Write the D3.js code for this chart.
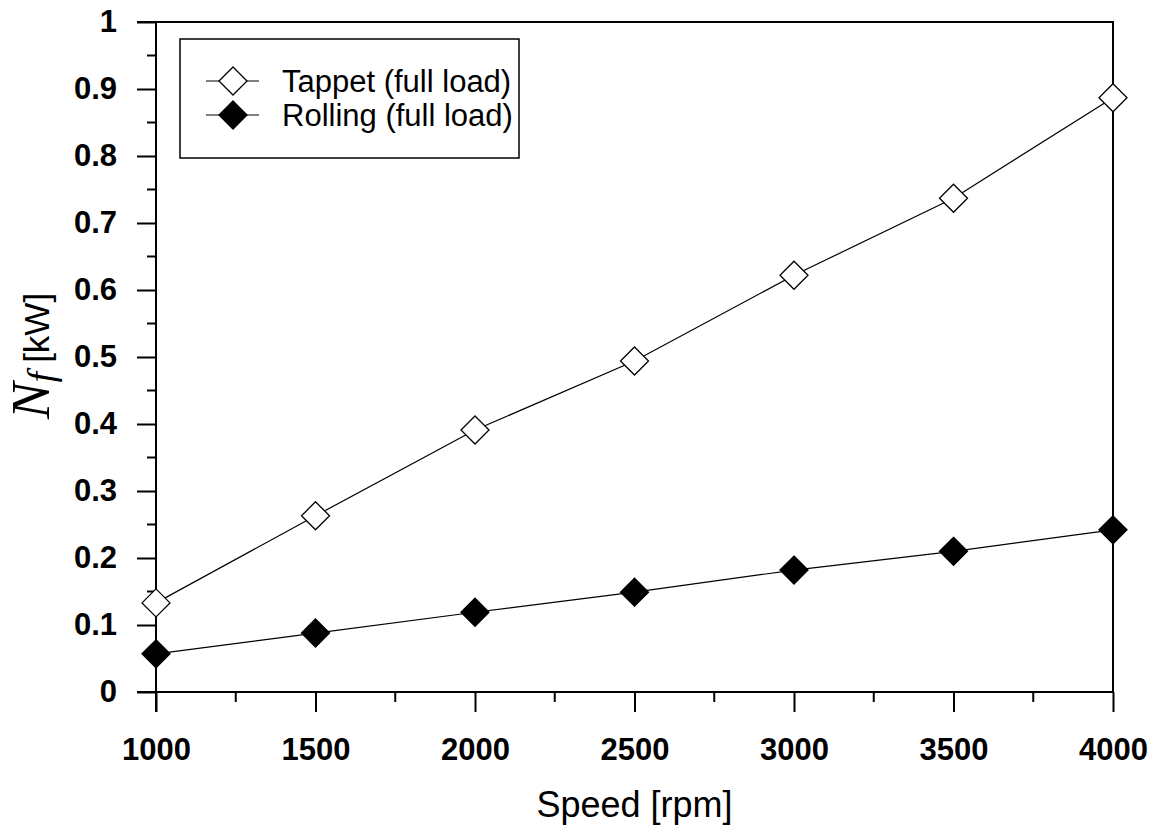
<!DOCTYPE html>
<html>
<head>
<meta charset="utf-8">
<script src="https://cdn.jsdelivr.net/npm/d3@7"></script>
<style>
  body { margin: 0; background: #fff; }
  svg { display: block; }
</style>
</head>
<body>
<svg width="1157" height="834"></svg>
<script>
// data
var speeds = [1000, 1500, 2000, 2500, 3000, 3500, 4000];
var tappet = [0.133, 0.263, 0.391, 0.494, 0.622, 0.737, 0.887];
var rolling = [0.057, 0.088, 0.119, 0.149, 0.182, 0.210, 0.242];
var seriesNames = ["Tappet (full load)", "Rolling (full load)"];
var yTicks = [0, 0.1, 0.2, 0.3, 0.4, 0.5, 0.6, 0.7, 0.8, 0.9, 1];
var xTicks = [1000, 1500, 2000, 2500, 3000, 3500, 4000];

var svg = d3.select("svg");
var plotL = 156, plotR = 1113, plotT = 22, plotB = 692;
var sans = "Arial, 'Liberation Sans', sans-serif";
var serif = "'Liberation Serif', 'Times New Roman', serif";

var x = d3.scaleLinear().domain([1000, 4000]).range([plotL, plotR]);
var y = d3.scaleLinear().domain([0, 1]).range([plotB, plotT]);

// frame: top and right lines (top line runs through the "1" tick)
svg.append("path")
  .attr("d", "M" + (plotL - 19) + "," + plotT + "H" + plotR + "V" + plotB)
  .attr("fill", "none").attr("stroke", "#000").attr("stroke-width", 2);

// y axis
var yAxis = svg.append("g").attr("transform", "translate(" + plotL + ",0)")
  .call(d3.axisLeft(y).tickValues(yTicks).tickSize(19).tickPadding(20)
    .tickFormat(function(d) { return d === 0 || d === 1 ? d : d3.format(".1f")(d); }));
yAxis.select(".domain").remove();
yAxis.append("g").selectAll("line")
  .data(d3.range(0.05, 1, 0.1))
  .enter().append("line")
  .attr("x1", -9).attr("x2", 0)
  .attr("y1", function(d) { return y(d); })
  .attr("y2", function(d) { return y(d); })
  .attr("stroke", "#000").attr("stroke-width", 2);

// x axis
var xAxis = svg.append("g").attr("transform", "translate(0," + plotB + ")")
  .call(d3.axisBottom(x).tickValues(xTicks).tickSize(20).tickPadding(26).tickFormat(d3.format("d")));
xAxis.select(".domain").remove();
xAxis.append("g").selectAll("line")
  .data(d3.range(1250, 4000, 500))
  .enter().append("line")
  .attr("x1", function(d) { return x(d); })
  .attr("x2", function(d) { return x(d); })
  .attr("y1", 0).attr("y2", 10)
  .attr("stroke", "#000").attr("stroke-width", 2);

svg.append("line").attr("x1", plotL).attr("x2", plotL).attr("y1", plotT).attr("y2", plotB + 20)
  .attr("stroke", "#000").attr("stroke-width", 2);
svg.append("line").attr("x1", plotL - 19).attr("x2", plotR).attr("y1", plotB).attr("y2", plotB)
  .attr("stroke", "#000").attr("stroke-width", 2);
svg.selectAll(".tick line").attr("stroke-width", 2);
svg.selectAll(".tick text")
  .attr("font-family", sans)
  .attr("font-weight", "bold").attr("font-size", 31).attr("fill", "#000");

// axis titles
svg.append("text").attr("x", (plotL + plotR) / 2).attr("y", 817)
  .attr("text-anchor", "middle")
  .attr("font-family", sans).attr("font-size", 36)
  .text("Speed [rpm]");

var yt = svg.append("text").attr("transform", "translate(49,356) rotate(-90)")
  .attr("text-anchor", "middle");
yt.append("tspan").attr("font-family", serif)
  .attr("font-style", "italic").attr("font-size", 55).text("N");
yt.append("tspan").attr("font-family", serif)
  .attr("font-style", "italic").attr("font-size", 38).attr("dy", 5).text("f");
yt.append("tspan").attr("font-family", sans)
  .attr("font-size", 35).attr("dy", -5).attr("dx", 9).text("[kW]");

// series
var diamond = function(r) { return "M0," + (-r) + "L" + r + ",0L0," + r + "L" + (-r) + ",0Z"; };
var line = d3.line().x(function(d) { return x(d[0]); }).y(function(d) { return y(d[1]); });
var series = [
  { vals: tappet, fill: "#fff" },
  { vals: rolling, fill: "#000" }
];
series.forEach(function(s) {
  var pts = speeds.map(function(v, i) { return [v, s.vals[i]]; });
  svg.append("path").datum(pts).attr("d", line)
    .attr("fill", "none").attr("stroke", "#000").attr("stroke-width", 1.2);
  svg.append("g").selectAll("path")
    .data(pts).enter().append("path")
    .attr("d", diamond(14))
    .attr("transform", function(d) { return "translate(" + x(d[0]) + "," + y(d[1]) + ")"; })
    .attr("fill", s.fill).attr("stroke", "#000").attr("stroke-width", 1.3);
});

// legend
svg.append("rect").attr("x", 180).attr("y", 39).attr("width", 339).attr("height", 119)
  .attr("fill", "#fff").attr("stroke", "#000").attr("stroke-width", 1.5);
var legY = [81, 115];
series.forEach(function(s, i) {
  var g = svg.append("g").attr("transform", "translate(0," + legY[i] + ")");
  g.append("line").attr("x1", 206).attr("x2", 259).attr("stroke", "#000").attr("stroke-width", 1.2);
  g.append("path").attr("d", diamond(14)).attr("transform", "translate(233,0)")
    .attr("fill", s.fill).attr("stroke", "#000").attr("stroke-width", 1.3);
  g.append("text").attr("x", 282).attr("y", 11)
    .attr("font-family", sans).attr("font-size", 31)
    .text(seriesNames[i]);
});
</script>
</body>
</html>
